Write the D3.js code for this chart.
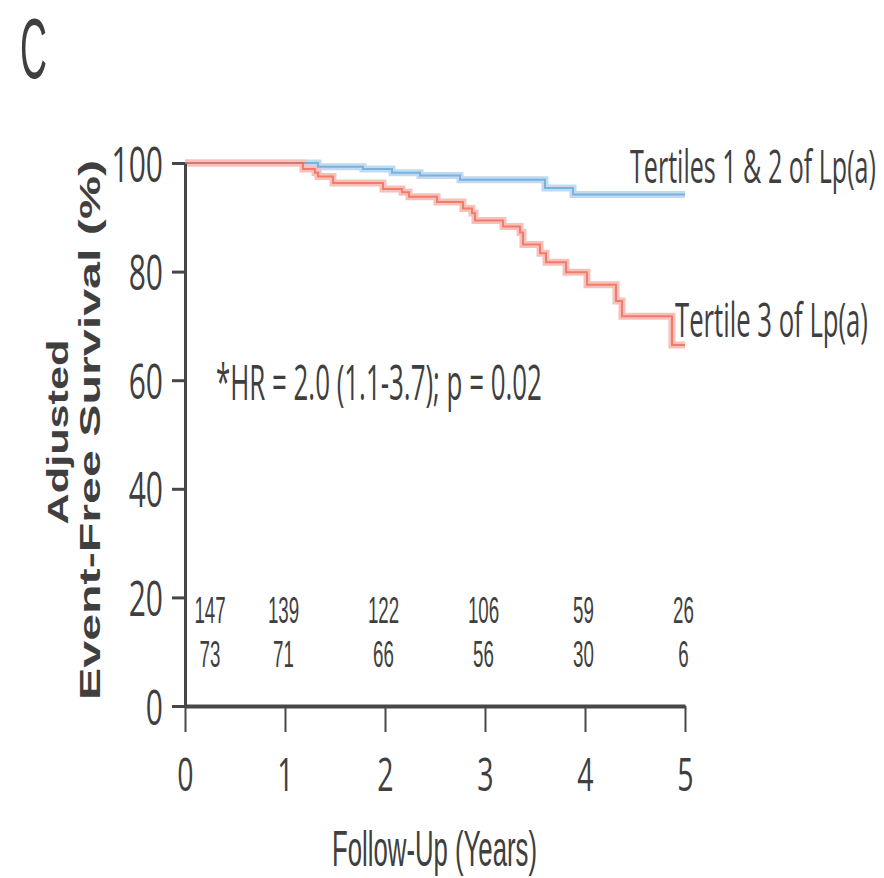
<!DOCTYPE html>
<html>
<head>
<meta charset="utf-8">
<script src="https://cdn.jsdelivr.net/npm/d3@7"></script>
<style>
  body{margin:0;background:#fff;}
  text{font-family:"Open Sans",sans-serif;fill:#3f3f3f;}
</style>
</head>
<body>
<svg id="chart"></svg>
<script>
// data
var seriesNames = ["Tertiles 1 & 2 of Lp(a)", "Tertile 3 of Lp(a)"];
var lowTimes = [0, 1.33, 1.78, 2.07, 2.35, 2.75, 3.60, 3.88, 5.0];
var lowSurv  = [100, 99.3, 98.9, 98.2, 97.7, 96.9, 95.4, 94.2, 94.2];
var highTimes = [0, 1.18, 1.30, 1.33, 1.48, 1.98, 2.17, 2.24, 2.52, 2.78, 2.87, 2.90, 3.18, 3.35, 3.38, 3.55, 3.61, 3.81, 4.02, 4.31, 4.37, 4.87, 5.0];
var highSurv  = [100, 98.9, 98.2, 97.5, 96.3, 95.2, 94.6, 93.8, 92.8, 91.6, 90.8, 89.4, 88.3, 87.2, 85.0, 83.4, 81.7, 79.9, 77.6, 74.6, 71.8, 66.5, 66.5];
var riskTimes = [0, 1, 2, 3, 4, 5];
var riskLow  = [147, 139, 122, 106, 59, 26];
var riskHigh = [73, 71, 66, 56, 30, 6];
var xTicks = [0, 1, 2, 3, 4, 5];
var yTicks = [0, 20, 40, 60, 80, 100];
var hrText = "*HR = 2.0 (1.1-3.7); p = 0.02";

var width = 884, height = 878;
var svg = d3.select("#chart").attr("width", width).attr("height", height);

var x = d3.scaleLinear().domain([0, 5]).range([185, 685]);
var y = d3.scaleLinear().domain([0, 100]).range([706, 163]);
var axisColor = "#474747";

// squeeze a text to a given width (the original uses a condensed face)
function fitText(sel, px, py, w, rot){
  var len = sel.node().getComputedTextLength();
  var sx = w / len;
  sel.attr("transform", "translate(" + px + "," + py + ")" + (rot ? " rotate(" + rot + ")" : "") + " scale(" + sx + ",1)");
  return sel;
}

// panel letter
fitText(svg.append("text").style("font-family", "Liberation Sans").style("font-size", "86px").text("C"), 20, 78, 27);

// curves
var line = d3.line()
  .x(function(d){ return x(d[0]); })
  .y(function(d){ return y(d[1]); })
  .curve(d3.curveStepAfter);
var low = lowTimes.map(function(t, i){ return [t, lowSurv[i]]; });
var high = highTimes.map(function(t, i){ return [t, highSurv[i]]; });

svg.append("path").datum(low).attr("d", line)
   .attr("fill", "none").attr("stroke", "#c2d9ef").attr("stroke-width", 7);
svg.append("path").datum(high).attr("d", line)
   .attr("fill", "none").attr("stroke", "#f8c0b9").attr("stroke-width", 7);
svg.append("path").datum(low).attr("d", line)
   .attr("fill", "none").attr("stroke", "#5ea5dc").attr("stroke-width", 2).attr("opacity", 0.75);
svg.append("path").datum(high).attr("d", line)
   .attr("fill", "none").attr("stroke", "#f06553").attr("stroke-width", 2).attr("opacity", 0.75);

// y axis
var gy = svg.append("g").attr("transform", "translate(185,0)")
  .call(d3.axisLeft(y).tickValues(yTicks).tickSize(13).tickSizeOuter(0));
gy.select(".domain").attr("stroke", axisColor).attr("stroke-width", 3);
gy.selectAll(".tick line").attr("stroke", axisColor).attr("stroke-width", 3);
gy.selectAll(".tick text")
  .attr("x", 0).attr("dy", 0).attr("fill", "#3f3f3f")
  .attr("transform", "translate(-22,18) scale(0.6,1)")
  .style("font-size", "50px").style("font-family", "Open Sans");

// x axis
var gx = svg.append("g").attr("transform", "translate(0,706)")
  .call(d3.axisBottom(x).tickValues(xTicks).tickFormat(d3.format("d")).tickSize(26).tickSizeOuter(0));
gx.select(".domain").attr("stroke", axisColor).attr("stroke-width", 4);
gx.selectAll(".tick line").attr("stroke", axisColor).attr("stroke-width", 2);
gx.selectAll(".tick text")
  .attr("y", 0).attr("dy", 0).attr("fill", "#3f3f3f")
  .attr("transform", "translate(0,85) scale(0.62,1)")
  .style("font-size", "46px").style("font-family", "Open Sans");

fitText(svg.append("text").attr("text-anchor", "middle")
   .style("font-family", "Liberation Sans").style("font-size", "50px")
   .text("Follow-Up (Years)"), 434.5, 866, 205);

// y label
fitText(svg.append("text").attr("text-anchor", "middle")
   .style("font-family", "Liberation Sans").style("font-weight", "bold").style("font-size", "29px")
   .text("Adjusted"), 68, 432, 185, -90);
fitText(svg.append("text").attr("text-anchor", "middle")
   .style("font-family", "Liberation Sans").style("font-weight", "bold").style("font-size", "29px")
   .text("Event-Free Survival (%)"), 100, 430, 540, -90);

// number at risk
function riskX(t, i){ return i === 0 ? x(t) + 25 : x(t) - 1.5; }
svg.selectAll(".riskLow").data(riskLow).enter().append("text")
   .attr("class", "riskLow")
   .attr("text-anchor", "middle")
   .style("font-family", "Liberation Sans").style("font-size", "36px")
   .attr("transform", function(d, i){ return "translate(" + riskX(riskTimes[i], i) + ",623) scale(0.52,1)"; })
   .text(function(d){ return d; });
svg.selectAll(".riskHigh").data(riskHigh).enter().append("text")
   .attr("class", "riskHigh")
   .attr("text-anchor", "middle")
   .style("font-family", "Liberation Sans").style("font-size", "36px")
   .attr("transform", function(d, i){ return "translate(" + riskX(riskTimes[i], i) + ",667) scale(0.52,1)"; })
   .text(function(d){ return d; });

// annotations
fitText(svg.append("text").style("font-size", "49px").text(hrText), 216, 400, 326);
fitText(svg.append("text").style("font-size", "46px").text(seriesNames[0]), 630, 183, 246);
fitText(svg.append("text").style("font-size", "47px").text(seriesNames[1]), 675, 337, 193);
</script>
</body>
</html>
